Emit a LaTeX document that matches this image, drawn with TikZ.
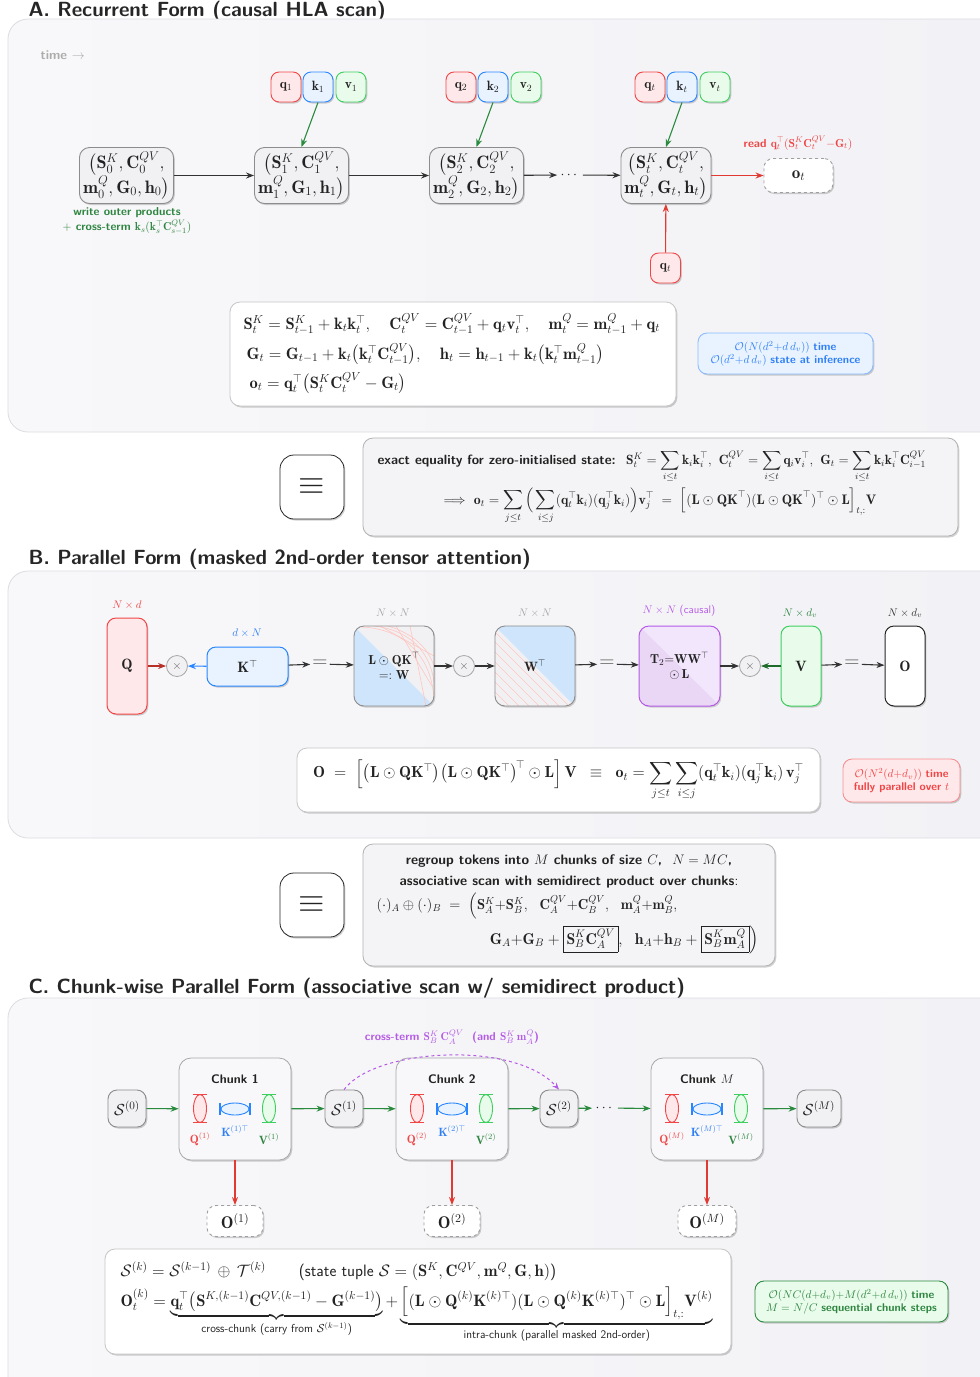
\RequirePackage{fix-cm}
\documentclass[tikz,border=0pt]{standalone}
\usepackage{amsmath,amssymb}
\usepackage{fontspec}
\usetikzlibrary{shadows,arrows.meta,calc}
\definecolor{panelfill}{HTML}{F4F4F8}
\definecolor{panelleft}{HTML}{F8F8FA}
\definecolor{panelright}{HTML}{F2F2F6}
\definecolor{panelline}{HTML}{DCDCE2}
\definecolor{stfill}{HTML}{F1F1F4}
\definecolor{stline}{HTML}{8C8C8C}
\definecolor{rline}{HTML}{F24646}
\definecolor{rfill}{HTML}{FFE8EA}
\definecolor{bline}{HTML}{2A86FF}
\definecolor{bfill}{HTML}{E8F3FF}
\definecolor{gline}{HTML}{3ECF5E}
\definecolor{gfill}{HTML}{E9FCEB}
\definecolor{garrow}{HTML}{2A8A3E}
\definecolor{gdark}{HTML}{1F6B2A}
\definecolor{pline}{HTML}{B45AE6}
\definecolor{pfill}{HTML}{F2E6FC}
\definecolor{pfill2}{HTML}{EAD6F5}
\definecolor{darkarr}{HTML}{333333}
\definecolor{titlec}{HTML}{262626}
\definecolor{txtc}{HTML}{222222}
\definecolor{mblue}{HTML}{CFE5FB}
\definecolor{hatch}{HTML}{FFC6C0}
\definecolor{darkred}{HTML}{B8302A}
\definecolor{redarr}{HTML}{E03A32}
\definecolor{gtext}{HTML}{2E8540}
\definecolor{btext}{HTML}{2E7FF5}
\definecolor{rtext}{HTML}{F04545}
\definecolor{chfill}{HTML}{F8F8FA}
\definecolor{chline}{HTML}{A8A8AC}
\definecolor{gboxfill}{HTML}{F4F4F6}
\newcommand{\sz}[2]{\sffamily\fontsize{#1}{#2}\selectfont}
\newcommand{\mbv}[1]{\mathbf{#1}}
\newcommand{\chunkin}[4]{%
  \node[font=\sffamily\bfseries\fontsize{12.4}{14}\selectfont] (ct#4) at (#1,1079) {Chunk #2};
  \draw[rline, fill=rfill, line width=0.9pt] (#1-35,1108.5) ellipse [x radius=6.5pt, y radius=14pt];
  \draw[rline, line width=1.3pt] (#1-42,1094.5) -- (#1-28,1094.5);
  \draw[rline, line width=1.3pt] (#1-42,1122.5) -- (#1-28,1122.5);
  \draw[bline, fill=bfill, line width=0.9pt] (#1,1109) ellipse [x radius=14pt, y radius=6pt];
  \draw[bline, line width=1.3pt] (#1-15,1103) -- (#1-15,1115);
  \draw[bline, line width=1.3pt] (#1+15,1103) -- (#1+15,1115);
  \draw[gline, fill=gfill, line width=0.9pt] (#1+34,1108.5) ellipse [x radius=6.5pt, y radius=14pt];
  \draw[gline, line width=1.3pt] (#1+27,1094.5) -- (#1+41,1094.5);
  \draw[gline, line width=1.3pt] (#1+27,1122.5) -- (#1+41,1122.5);
  \node[font=\sz{12}{14}, text=rtext] (lq#4) at (#1-35,1139) {$\mbv Q^{(#3)}$};
  \node[font=\sz{12}{14}, text=btext] (lk#4) at (#1,1131) {$\mbv K^{(#3)\top}$};
  \node[font=\sz{12}{14}, text=gtext] (lv#4) at (#1+34,1139) {$\mbv V^{(#3)}$};
}
\begin{document}
\begin{tikzpicture}[x=1pt,y=-1pt,
  every node/.append style={font=\sffamily, text=txtc},
  ttl/.style={anchor=west, font=\sffamily\bfseries\fontsize{20.5}{24}\selectfont, text=titlec},
  panel/.style={rounded corners=20pt, left color=panelleft, right color=panelright, draw=panelline, line width=0.8pt},
  shad/.style={drop shadow={shadow xshift=1.3pt, shadow yshift=-1.5pt, opacity=0.18, fill=black}},
  stbox/.style={shad, rounded corners=10pt, fill=stfill, draw=stline, line width=0.9pt, minimum width=94pt, minimum height=56pt, inner sep=0pt, align=center, font=\sz{18}{21.5}},
  smallbox/.style={shad, rounded corners=8pt, line width=0.9pt, minimum width=30pt, minimum height=30pt, inner sep=0pt, font=\sz{13.5}{16}},
  qsb/.style={smallbox, draw=rline, fill=rfill},
  ksb/.style={smallbox, draw=bline, fill=bfill},
  vsb/.style={smallbox, draw=gline, fill=gfill},
  obox/.style={shad, rounded corners=9pt, fill=white, draw=gray!75, dashed, line width=0.9pt, font=\sz{17}{20}, inner sep=0pt},
  darr/.style={-{Stealth[length=8pt,width=6pt]}, line width=1.1pt, draw=darkarr},
  garr/.style={-{Stealth[length=8pt,width=6pt]}, line width=1.1pt, draw=garrow},
  rarr/.style={-{Stealth[length=8pt,width=6pt]}, line width=1.1pt, draw=redarr},
  wbox/.style={shad, rounded corners=10pt, fill=white, draw=gray!45, line width=0.8pt},
  gbox/.style={shad, rounded corners=10pt, fill=gboxfill, draw=gray!60, line width=0.8pt},
  eqv/.style={shad, rounded corners=14pt, fill=white, draw=black!85, line width=0.8pt, minimum width=64pt, minimum height=64pt, font=\sz{34}{36}},
  note/.style={shad, rounded corners=9pt, line width=0.9pt, align=center, font=\sz{11.2}{13}, inner sep=1pt},
  dimlab/.style={font=\sz{11}{13}},
  timesn/.style={circle, draw=gray!70, fill=stfill, minimum size=21pt, inner sep=0pt, line width=0.8pt, font=\sz{12}{14}, text=gray!80!black},
  eqsign/.style={font=\sz{21}{24}, text=gray!70!black, inner sep=2pt},
  sbox/.style={shad, rounded corners=9pt, fill=stfill, draw=stline, line width=0.9pt, minimum width=38pt, minimum height=37pt, inner sep=0pt, font=\sz{16}{18}},
  chbox/.style={shad, rounded corners=12pt, fill=chfill, draw=chline, line width=0.8pt, minimum width=112pt, minimum height=102pt},
  hl/.style={draw=hatch, line width=0.6pt}
]
\useasboundingbox (0,0) rectangle (980,1377);
\fill[white] (0,0) rectangle (980,1377);

%% ================= A =================
\node[ttl] (tA) at (25,11) {A. Recurrent Form (causal HLA scan)};
\draw[panel] (8,19) rectangle (1010,432);
\node[font=\sffamily\bfseries\fontsize{13}{15}\selectfont, text=gray!65, anchor=west] (time) at (37,55) {time $\rightarrow$};

\node[stbox] (s0) at (126.5,175.5) {$\big(\mbv S_0^K,\mbv C_0^{QV},$\\$\mbv m_0^Q,\mbv G_0,\mbv h_0\big)$};
\node[stbox] (s1) at (301.5,175.5) {$\big(\mbv S_1^K,\mbv C_1^{QV},$\\$\mbv m_1^Q,\mbv G_1,\mbv h_1\big)$};
\node[stbox] (s2) at (476.5,175.5) {$\big(\mbv S_2^K,\mbv C_2^{QV},$\\$\mbv m_2^Q,\mbv G_2,\mbv h_2\big)$};
\node[font=\sz{14}{16}] (dA) at (570,175) {$\cdots$};
\node[stbox, minimum width=90pt] (st) at (666,175.5) {$\big(\mbv S_t^K,\mbv C_t^{QV},$\\$\mbv m_t^Q,\mbv G_t,\mbv h_t\big)$};
\node[obox, minimum width=69pt, minimum height=34pt] (ot) at (798.5,175.5) {$\mbv o_t$};

\node[qsb] (q1) at (286,87) {$\mbv q_1$};
\node[ksb] (k1) at (318,87) {$\mbv k_1$};
\node[vsb] (v1) at (351,87) {$\mbv v_1$};
\node[qsb] (q2) at (461,87) {$\mbv q_2$};
\node[ksb] (k2) at (493,87) {$\mbv k_2$};
\node[vsb] (v2) at (526,87) {$\mbv v_2$};
\node[qsb] (qt) at (650,87) {$\mbv q_t$};
\node[ksb] (kt) at (682,87) {$\mbv k_t$};
\node[vsb] (vt) at (715,87) {$\mbv v_t$};
\node[qsb] (qb) at (665.5,268) {$\mbv q_t$};

\draw[darr] (s0) -- (s1);
\draw[darr] (s1) -- (s2);
\draw[darr] (s2) -- (dA);
\draw[darr] (dA) -- (st);
\draw[rarr] (st) -- (ot);
\draw[garr] (k1.south) -- (s1.north);
\draw[garr] (k2.south) -- (s2.north);
\draw[garr] (kt.south) -- (st.north);
\draw[rarr] (qb) -- (st);

\node[font=\sffamily\bfseries\fontsize{11.6}{13}\selectfont, text=rtext] (readl) at (798,143) {read $\mbv q_t^\top(\mbv S_t^K\mbv C_t^{QV}{-}\mbv G_t)$};
\node[font=\sffamily\bfseries\fontsize{11.5}{15}\selectfont, text=gtext, align=center] (writel) at (127,221) {write outer products\\$+$ cross-term $\mbv k_s(\mbv k_s^\top\mbv C_{s-1}^{QV})$};

\node[wbox, minimum width=446pt, minimum height=104pt] (eqA) at (453,354) {};
\node[anchor=west, font=\sz{16.5}{19}] (eqA1) at (240,324) {$\mbv S_t^K=\mbv S_{t-1}^K+\mbv k_t\mbv k_t^\top,\quad \mbv C_t^{QV}=\mbv C_{t-1}^{QV}+\mbv q_t\mbv v_t^\top,\quad \mbv m_t^Q=\mbv m_{t-1}^Q+\mbv q_t$};
\node[anchor=west, font=\sz{16.5}{19}] (eqA2) at (243,354) {$\mbv G_t=\mbv G_{t-1}+\mbv k_t\big(\mbv k_t^\top\mbv C_{t-1}^{QV}\big),\quad \mbv h_t=\mbv h_{t-1}+\mbv k_t\big(\mbv k_t^\top\mbv m_{t-1}^Q\big)$};
\node[anchor=west, font=\sz{16.5}{19}] (eqA3) at (246,383) {$\mbv o_t=\mbv q_t^\top\big(\mbv S_t^K\mbv C_t^{QV}-\mbv G_t\big)$};

\node[note, fill=bfill, draw=bline!55, text=btext, minimum width=175pt, minimum height=41pt] (nA) at (785.5,353.5) {$\mathcal O(N(d^2{+}d\,d_v))$ \textbf{time}\\$\mathcal O(d^2{+}d\,d_v)$ \textbf{state at inference}};

%% ================= equality 1 =================
\node[eqv] (e1) at (312,487) {$\equiv$};
\node[gbox, minimum width=595pt, minimum height=98pt] (ex) at (660.5,487) {};
\node[anchor=base west, font=\sz{13.4}{16}] (ex1) at (374,464) {\bfseries exact equality for zero-initialised state:\; $\mbv S_t^K=\displaystyle\sum_{i\le t}\mbv k_i\mbv k_i^\top,\ \mbv C_t^{QV}=\sum_{i\le t}\mbv q_i\mbv v_i^\top,\ \mbv G_t=\sum_{i\le t}\mbv k_i\mbv k_i^\top\mbv C_{i-1}^{QV}$};
\node[anchor=base, font=\sz{13.8}{16}] (ex2) at (660,504) {$\displaystyle\Longrightarrow\ \mbv o_t=\sum_{j\le t}\Big(\sum_{i\le j}(\mbv q_t^\top\mbv k_i)(\mbv q_j^\top\mbv k_i)\Big)\mbv v_j^\top\;=\;\Big[(\mbv L\odot\mbv{QK}^\top)(\mbv L\odot\mbv{QK}^\top)^\top\odot\mbv L\Big]_{t,:}\mbv V$};

%% ================= B =================
\node[ttl] (tB) at (25,559) {B. Parallel Form (masked 2nd-order tensor attention)};
\draw[panel] (8,571) rectangle (1010,838);

\node[shad, rounded corners=9pt, fill=rfill, draw=rline, line width=1pt, minimum width=40pt, minimum height=96pt, font=\sz{15}{17}] (Q) at (127,666) {$\mbv Q$};
\node[dimlab, text=rtext] (lQ) at (127,605) {$N\times d$};
\node[timesn] (x1) at (177,666) {$\times$};
\node[shad, rounded corners=9pt, fill=bfill, draw=bline, line width=1pt, minimum width=81pt, minimum height=39pt, font=\sz{15}{17}] (KT) at (247.5,666.5) {$\mbv K^\top$};
\node[dimlab, text=btext] (lK) at (247,633) {$d\times N$};
\node[eqsign] (qa) at (320,664) {$=$};

% L . QK^T box
\fill[black, opacity=0.16, rounded corners=10pt] (355.3,627.5) rectangle (435.3,707.5);
\begin{scope}
  \clip[rounded corners=10pt] (354,626) rectangle (434,706);
  \fill[stfill] (354,626) rectangle (434,706);
  \fill[mblue] (354,626) -- (354,706) -- (434,706) -- cycle;
  \begin{scope}[shift={(354,626)}]
    \draw[hl] (8,1) .. controls (50,3) and (78,30) .. (80,74);
    \draw[hl] (20,0) .. controls (55,4) and (76,25) .. (80,56);
    \draw[hl] (34,0) .. controls (60,8) and (74,22) .. (80,40);
    \draw[hl] (26,0) -- (80,30);
    \draw[hl] (42,0) -- (78,60);
    \draw[hl] (56,0) -- (72,80);
  \end{scope}
\end{scope}
\draw[stline, line width=0.9pt, rounded corners=10pt] (354,626) rectangle (434,706);
\node[font=\sz{13}{15}, align=center, minimum size=80pt, inner sep=0pt] (Lm) at (394,666) {$\mbv L\odot\mbv{QK}^\top$\\$=:\mbv W$};
\node[dimlab, text=gray!70] (lL) at (393,613) {$N\times N$};

\node[timesn] (x2) at (464,666) {$\times$};

% W^T box
\fill[black, opacity=0.16, rounded corners=10pt] (496.3,627.5) rectangle (576.3,707.5);
\begin{scope}
  \clip[rounded corners=10pt] (495,626) rectangle (575,706);
  \fill[stfill] (495,626) rectangle (575,706);
  \fill[mblue] (495,626) -- (575,626) -- (575,706) -- cycle;
  \foreach \k in {6,16,...,76} { \draw[hl] (495,626+\k) -- (575-\k,706); }
\end{scope}
\draw[stline, line width=0.9pt, rounded corners=10pt] (495,626) rectangle (575,706);
\node[font=\sz{13.5}{15}, minimum size=80pt, inner sep=0pt] (Wm) at (535,666) {$\mbv W^\top$};
\node[dimlab, text=gray!70] (lW) at (535,613) {$N\times N$};

\node[eqsign] (qb2) at (607,664) {$=$};

% T2 box
\fill[black, opacity=0.16, rounded corners=10pt] (640.3,627.5) rectangle (721.3,707.5);
\begin{scope}
  \clip[rounded corners=10pt] (639,626) rectangle (720,706);
  \fill[pfill] (639,626) rectangle (720,706);
  \fill[pfill2] (639,626) -- (639,706) -- (720,706) -- cycle;
\end{scope}
\draw[pline, line width=1pt, rounded corners=10pt] (639,626) rectangle (720,706);
\node[font=\sz{13}{15}, align=center, minimum width=81pt, minimum height=80pt, inner sep=0pt] (T2) at (679.5,666) {$\mbv T_2{=}\mbv W\mbv W^\top$\\$\odot\,\mbv L$};
\node[dimlab, text=pline] (lT) at (679,611) {$N\times N$ (causal)};

\node[timesn] (x3) at (750,666) {$\times$};
\node[shad, rounded corners=9pt, fill=gfill, draw=gline, line width=1pt, minimum width=40pt, minimum height=80pt, font=\sz{15}{17}] (V) at (801,666) {$\mbv V$};
\node[dimlab, text=gtext] (lV) at (800,613) {$N\times d_v$};
\node[eqsign] (qc) at (852,664) {$=$};
\node[shad, rounded corners=9pt, fill=white, draw=black!85, line width=1pt, minimum width=40pt, minimum height=80pt, font=\sz{15}{17}] (O) at (905,666) {$\mbv O$};
\node[dimlab, text=gray!40!black] (lO) at (905,613) {$N\times d_v$};

\draw[-{Stealth[length=8pt,width=6pt]}, line width=1.1pt, draw=darkred] (Q) -- (x1);
\draw[-{Stealth[length=8pt,width=6pt]}, line width=1.1pt, draw=bline] (KT) -- (x1);
\draw[darr] (KT) -- (qa);
\draw[darr] (qa) -- (Lm);
\draw[darr] (Lm) -- (x2);
\draw[darr] (x2) -- (Wm);
\draw[darr] (Wm) -- (qb2);
\draw[darr] (qb2) -- (T2);
\draw[darr] (T2) -- (x3);
\draw[-{Stealth[length=8pt,width=6pt]}, line width=1.1pt, draw=gdark] (V) -- (x3);
\draw[darr] (V) -- (qc);
\draw[darr] (qc) -- (O);

\node[wbox, minimum width=523pt, minimum height=64pt, font=\sz{16}{19}] (eqB) at (558.5,780) {$\mbv O\;=\;\Big[\big(\mbv L\odot\mbv{QK}^\top\big)\big(\mbv L\odot\mbv{QK}^\top\big)^{\!\top}\odot\mbv L\Big]\,\mbv V\;\;\equiv\;\;\mbv o_t=\displaystyle\sum_{j\le t}\sum_{i\le j}(\mbv q_t^\top\mbv k_i)(\mbv q_j^\top\mbv k_i)\,\mbv v_j^\top$};
\node[note, fill=rfill, draw=rline!60, text=rtext, minimum width=117pt, minimum height=43pt] (nB) at (901.5,780.5) {$\mathcal O(N^2(d{+}d_v))$ \textbf{time}\\\textbf{fully parallel over} $t$};

%% ================= equality 2 =================
\node[eqv] (e2) at (312,905) {$\equiv$};
\node[gbox, minimum width=412pt, minimum height=122pt] (rg) at (569,905) {};
\node[font=\sz{13.8}{16}] (rg1) at (569,861) {\bfseries regroup tokens into $M$ chunks of size $C$,\ \ $N=MC$,};
\node[font=\sz{13.8}{16}] (rg2) at (569,882) {\bfseries associative scan with semidirect product over chunks\mdseries:};
\node[anchor=west, font=\sz{14.5}{17}] (rg3) at (373,906) {$(\cdot)_A\oplus(\cdot)_B\;=\;\Big(\mbv S_A^K{+}\mbv S_B^K,\ \ \mbv C_A^{QV}{+}\mbv C_B^{QV},\ \ \mbv m_A^Q{+}\mbv m_B^Q,$};
\node[anchor=east, font=\sz{15.6}{18}] (rg4) at (762,940) {$\mbv G_A{+}\mbv G_B+\boxed{\mbv S_B^K\mbv C_A^{QV}},\ \ \mbv h_A{+}\mbv h_B+\boxed{\mbv S_B^K\mbv m_A^Q}\Big)$};

%% ================= C =================
\node[ttl] (tC) at (25,988) {C. Chunk-wise Parallel Form (associative scan w/ semidirect product)};
\draw[panel] (8,998) rectangle (1010,1420);

\node[sbox] (S0) at (127,1108.5) {$\mathcal S^{(0)}$};
\node[chbox] (c1) at (235,1109) {};
\node[sbox] (S1) at (344,1108.5) {$\mathcal S^{(1)}$};
\node[chbox] (c2) at (452,1109) {};
\node[sbox] (S2) at (559,1108.5) {$\mathcal S^{(2)}$};
\node[font=\sz{14}{16}] (dC) at (605,1108) {$\cdots$};
\node[chbox] (cM) at (707,1109) {};
\node[sbox, minimum width=44pt] (SM) at (819,1108.5) {$\mathcal S^{(M)}$};
\chunkin{235}{1}{1}{a}
\chunkin{452}{2}{2}{b}
\chunkin{707}{$M$}{M}{m}

\node[obox, minimum width=56pt, minimum height=31pt] (O1) at (235,1221) {$\mbv O^{(1)}$};
\node[obox, minimum width=56pt, minimum height=31pt] (O2) at (452,1221) {$\mbv O^{(2)}$};
\node[obox, minimum width=58pt, minimum height=31pt] (OM) at (707,1221) {$\mbv O^{(M)}$};

\draw[garr] (S0) -- (c1);
\draw[garr] (c1) -- (S1);
\draw[garr] (S1) -- (c2);
\draw[garr] (c2) -- (S2);
\draw[garr] (S2) -- (dC);
\draw[garr] (dC) -- (cM);
\draw[garr] (cM) -- (SM);
\draw[rarr] (c1) -- (O1);
\draw[rarr] (c2) -- (O2);
\draw[rarr] (cM) -- (OM);

\draw[pline, dashed, line width=1pt, -{Stealth[length=7pt,width=5.5pt]}] (S1.north) .. controls (375,1048) and (515,1040) .. (S2.north);
\node[font=\sffamily\bfseries\fontsize{11.4}{13}\selectfont, text=pline] (crossl) at (452,1037) {cross-term $\mbv S_B^K\,\mbv C_A^{QV}$\ \ (and $\mbv S_B^K\,\mbv m_A^Q$)};

\node[wbox, minimum width=626pt, minimum height=105pt] (eqC) at (418,1301.5) {};
\node[anchor=west, font=\sz{16.5}{19}] (eqC1) at (117,1271) {$\mathcal S^{(k)}=\mathcal S^{(k-1)}\,\oplus\,\mathcal T^{(k)}$\qquad(state tuple $\mathcal S=(\mbv S^K,\mbv C^{QV},\mbv m^Q,\mbv G,\mbv h)$)};
\node[anchor=base west, font=\sz{16.5}{19}] (eqC2) at (117,1306) {$\mbv O_t^{(k)}=\underbrace{\mbv q_t^\top\big(\mbv S^{K,(k-1)}\mbv C^{QV,(k-1)}-\mbv G^{(k-1)}\big)}_{\text{cross-chunk (carry from $\mathcal S^{(k-1)}$)}}+\underbrace{\Big[(\mbv L\odot\mbv Q^{(k)}\mbv K^{(k)\top})(\mbv L\odot\mbv Q^{(k)}\mbv K^{(k)\top})^\top\odot\mbv L\Big]_{t,:}\mbv V^{(k)}}_{\text{intra-chunk (parallel masked 2nd-order)}}$};

\node[note, fill=gfill, draw=garrow, text=gtext, minimum width=193pt, minimum height=41pt] (nC) at (851.5,1301.5) {$\mathcal O(NC(d{+}d_v){+}M(d^2{+}d\,d_v))$ \textbf{time}\\$M=N/C$ \textbf{sequential chunk steps}};
\end{tikzpicture}
\end{document}
